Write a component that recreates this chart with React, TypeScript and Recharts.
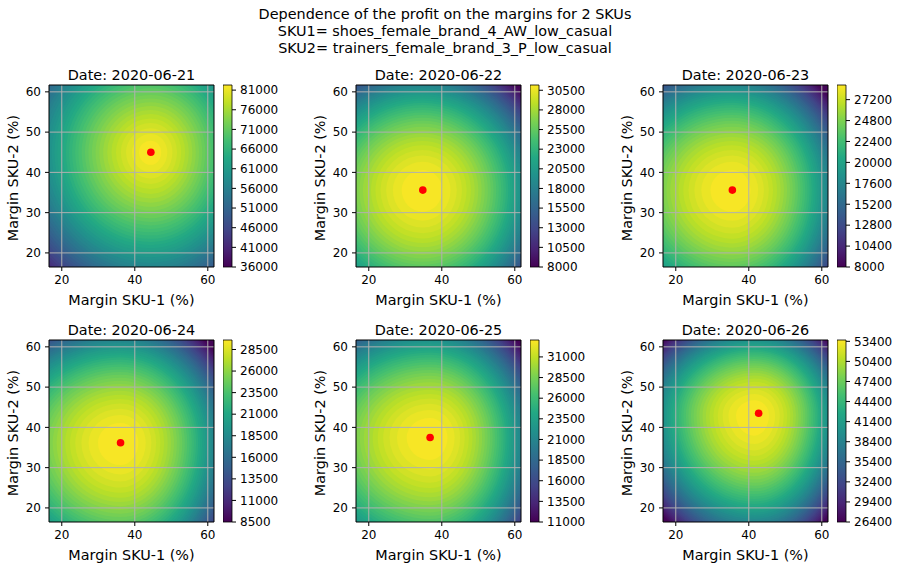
import React from "react";
import {
  ScatterChart,
  Scatter,
  XAxis,
  YAxis,
  ReferenceLine,
  ReferenceArea,
  BarChart,
  Bar,
} from "recharts";

const FONT = "'DejaVu Sans', 'Liberation Sans', sans-serif";

// values, one entry per panel
const dates = ["2020-06-21", "2020-06-22", "2020-06-23", "2020-06-24", "2020-06-25", "2020-06-26"];
const optimumSku1 = [44.4, 34.8, 35.5, 36.1, 36.8, 42.7];
const optimumSku2 = [45.0, 35.6, 35.6, 36.2, 37.5, 43.5];
const peakSku1 = [44.4, 34.8, 35.5, 36.1, 36.8, 41.5];
const peakSku2 = [45.0, 35.6, 35.6, 36.2, 37.5, 43.0];
const profitMax = [82300, 31170, 28880, 29600, 33050, 53600];
const profitMin = [36000, 8000, 8000, 8500, 11000, 26400];
// margin distance from the peak at which profit reaches the colorbar minimum
const reachLeft = [44.3, 41, 42.5, 43.8, 45.4, 35.4];
const reachRight = [38.6, 38, 35.3, 34.5, 33.6, 28.6];
const reachDown = [42.5, 38, 38.2, 39.4, 39.7, 35.7];
const reachUp = [39, 35.2, 35.2, 34.4, 34.2, 26.4];
const falloff = [1.5, 2, 2, 2, 2, 2];
const colorbarTicks = [
  [36000, 41000, 46000, 51000, 56000, 61000, 66000, 71000, 76000, 81000],
  [8000, 10500, 13000, 15500, 18000, 20500, 23000, 25500, 28000, 30500],
  [8000, 10400, 12800, 15200, 17600, 20000, 22400, 24800, 27200],
  [8500, 11000, 13500, 16000, 18500, 21000, 23500, 26000, 28500],
  [11000, 13500, 16000, 18500, 21000, 23500, 26000, 28500, 31000],
  [26400, 29400, 32400, 35400, 38400, 41400, 44400, 47400, 50400, 53400],
];
const marginTicksX = [20, 40, 60];
const marginTicksY = [20, 30, 40, 50, 60];
const marginDomain: [number, number] = [16.5, 61.7];

const titleLines = [
  "Dependence of the profit on the margins for 2 SKUs",
  "SKU1= shoes_female_brand_4_AW_low_casual",
  "SKU2= trainers_female_brand_3_P_low_casual",
];

// layout
const PLOT_W = 165;
const PLOT_H = 182;
const Y_AXIS_W = 49;
const X_AXIS_H = 30;
const M_TOP = 5;
const CB_M = 10;
const plotLefts = [49, 356, 663];
const plotTops = [85, 340];
const PX_X = PLOT_W / (marginDomain[1] - marginDomain[0]);
const PX_Y = PLOT_H / (marginDomain[1] - marginDomain[0]);
const N_LEVELS = 50;

const VIRIDIS = [
  "#440154", "#482475", "#414487", "#355f8d", "#2a788e", "#21918c",
  "#22a884", "#44bf70", "#7ad151", "#bddf26", "#fde725",
];

function hexRgb(h: string) {
  return [1, 3, 5].map((i) => parseInt(h.slice(i, i + 2), 16));
}

function viridis(t: number): string {
  const v = Math.max(0, Math.min(1, t)) * (VIRIDIS.length - 1);
  const i = Math.min(Math.floor(v), VIRIDIS.length - 2);
  const f = v - i;
  const a = hexRgb(VIRIDIS[i]);
  const b = hexRgb(VIRIDIS[i + 1]);
  const c = a.map((x, k) => Math.round(x + (b[k] - x) * f));
  return `rgb(${c[0]},${c[1]},${c[2]})`;
}

// contour bands around the peak, lowest level first
function buildRings(p: number) {
  const span = profitMax[p] - profitMin[p];
  const rings = [];
  for (let j = 0; j < N_LEVELS; j++) {
    const level = profitMin[p] + (span * j) / N_LEVELS;
    const d = j === 0 ? 3 : Math.pow((profitMax[p] - level) / span, 1 / falloff[p]);
    rings.push({
      x: peakSku1[p],
      y: peakSku2[p],
      l: d * reachLeft[p],
      r: d * reachRight[p],
      u: d * reachUp[p],
      b: d * reachDown[p],
      color: viridis((j + 0.5) / N_LEVELS),
      panel: p,
    });
  }
  return rings;
}

function RingShape(props: any) {
  const { cx, cy, payload } = props;
  const l = payload.l * PX_X;
  const r = payload.r * PX_X;
  const u = payload.u * PX_Y;
  const b = payload.b * PX_Y;
  const d = [
    `M${cx + r},${cy}`,
    `A${r},${u} 0 0 0 ${cx},${cy - u}`,
    `A${l},${u} 0 0 0 ${cx - l},${cy}`,
    `A${l},${b} 0 0 0 ${cx},${cy + b}`,
    `A${r},${b} 0 0 0 ${cx + r},${cy}`,
    "Z",
  ].join(" ");
  return <path d={d} fill={payload.color} clipPath={`url(#plot-clip-${payload.panel})`} />;
}

function DotShape(props: any) {
  return <circle cx={props.cx} cy={props.cy} r={3.8} fill="#ff0000" />;
}

function TextAt({ x, y, children, size = 14.4, rotate = 0 }: any) {
  return (
    <div
      style={{
        position: "absolute",
        left: x,
        top: y,
        transform: `translate(-50%, -50%) rotate(${rotate}deg)`,
        whiteSpace: "nowrap",
        fontSize: size,
        lineHeight: 1,
        fontFamily: FONT,
        color: "#000",
      }}
    >
      {children}
    </div>
  );
}

const tickStyle = { fill: "#000", fontSize: 12, fontFamily: FONT };

function Panel({ p }: { p: number }) {
  const left = plotLefts[p % 3];
  const top = plotTops[Math.floor(p / 3)];
  const rings = buildRings(p);
  const optimum = [{ x: optimumSku1[p], y: optimumSku2[p] }];
  const cbTicks = colorbarTicks[p];
  const cbData = [{ name: "cb", band: [profitMin[p], profitMax[p]] }];

  return (
    <>
      <TextAt x={left + PLOT_W / 2} y={top - 10.5}>{`Date: ${dates[p]}`}</TextAt>
      <TextAt x={left + PLOT_W / 2} y={top + PLOT_H + 32.7}>Margin SKU-1 (%)</TextAt>
      <TextAt x={left - 36.3} y={top + PLOT_H / 2 + 1.5} rotate={-90}>Margin SKU-2 (%)</TextAt>

      <div style={{ position: "absolute", left: left - Y_AXIS_W, top: top - M_TOP }}>
        <ScatterChart
          width={Y_AXIS_W + PLOT_W + 5}
          height={M_TOP + PLOT_H + X_AXIS_H}
          margin={{ top: M_TOP, right: 5, bottom: 0, left: 0 }}
        >
          <defs>
            <clipPath id={`plot-clip-${p}`}>
              <rect x={Y_AXIS_W} y={M_TOP} width={PLOT_W} height={PLOT_H} />
            </clipPath>
          </defs>
          <XAxis
            type="number"
            dataKey="x"
            domain={marginDomain}
            ticks={marginTicksX}
            allowDataOverflow
            height={X_AXIS_H}
            axisLine={false}
            tickLine={{ stroke: "#000" }}
            tickSize={4}
            tickMargin={4}
            tick={tickStyle}
            interval={0}
          />
          <YAxis
            type="number"
            dataKey="y"
            domain={marginDomain}
            ticks={marginTicksY}
            allowDataOverflow
            width={Y_AXIS_W}
            axisLine={false}
            tickLine={{ stroke: "#000" }}
            tickSize={4}
            tickMargin={4}
            tick={tickStyle}
            interval={0}
          />
          <Scatter data={rings} shape={RingShape} isAnimationActive={false} />
          {marginTicksX.map((v) => (
            <ReferenceLine key={`gx${v}`} x={v} stroke="#b0b0b0" strokeWidth={1} zIndex={700} />
          ))}
          {marginTicksY.map((v) => (
            <ReferenceLine key={`gy${v}`} y={v} stroke="#b0b0b0" strokeWidth={1} zIndex={700} />
          ))}
          <Scatter data={optimum} shape={DotShape} isAnimationActive={false} zIndex={800} />
          <ReferenceArea
            x1={marginDomain[0]}
            x2={marginDomain[1]}
            y1={marginDomain[0]}
            y2={marginDomain[1]}
            fill="none"
            fillOpacity={0}
            stroke="#000"
            strokeWidth={1}
            zIndex={900}
          />
        </ScatterChart>
      </div>

      <div style={{ position: "absolute", left: left + 174, top: top - CB_M }}>
        <BarChart
          width={9 + 60}
          height={PLOT_H + 2 * CB_M}
          data={cbData}
          margin={{ top: CB_M, right: 0, bottom: CB_M, left: 0 }}
          barCategoryGap={0}
        >
          <defs>
            <linearGradient id={`cb-grad-${p}`} x1="0" y1="1" x2="0" y2="0">
              {VIRIDIS.map((c, i) => (
                <stop key={i} offset={`${(i / (VIRIDIS.length - 1)) * 100}%`} stopColor={c} />
              ))}
            </linearGradient>
          </defs>
          <XAxis dataKey="name" hide />
          <YAxis
            orientation="right"
            type="number"
            domain={[profitMin[p], profitMax[p]]}
            ticks={cbTicks}
            interval={0}
            width={60}
            axisLine={false}
            tickLine={{ stroke: "#000" }}
            tickSize={4}
            tickMargin={4}
            tick={tickStyle}
          />
          <Bar
            dataKey="band"
            fill={`url(#cb-grad-${p})`}
            stroke="#000"
            strokeWidth={0.8}
            isAnimationActive={false}
          />
        </BarChart>
      </div>
    </>
  );
}

export default function App() {
  return (
    <div
      style={{
        position: "absolute",
        left: 0,
        top: 0,
        width: 900,
        height: 569,
        background: "#fff",
        fontFamily: FONT,
      }}
    >
      {titleLines.map((line, i) => (
        <TextAt key={i} x={445} y={14 + i * 17.2}>
          {line}
        </TextAt>
      ))}
      {dates.map((_, p) => (
        <Panel key={p} p={p} />
      ))}
    </div>
  );
}
